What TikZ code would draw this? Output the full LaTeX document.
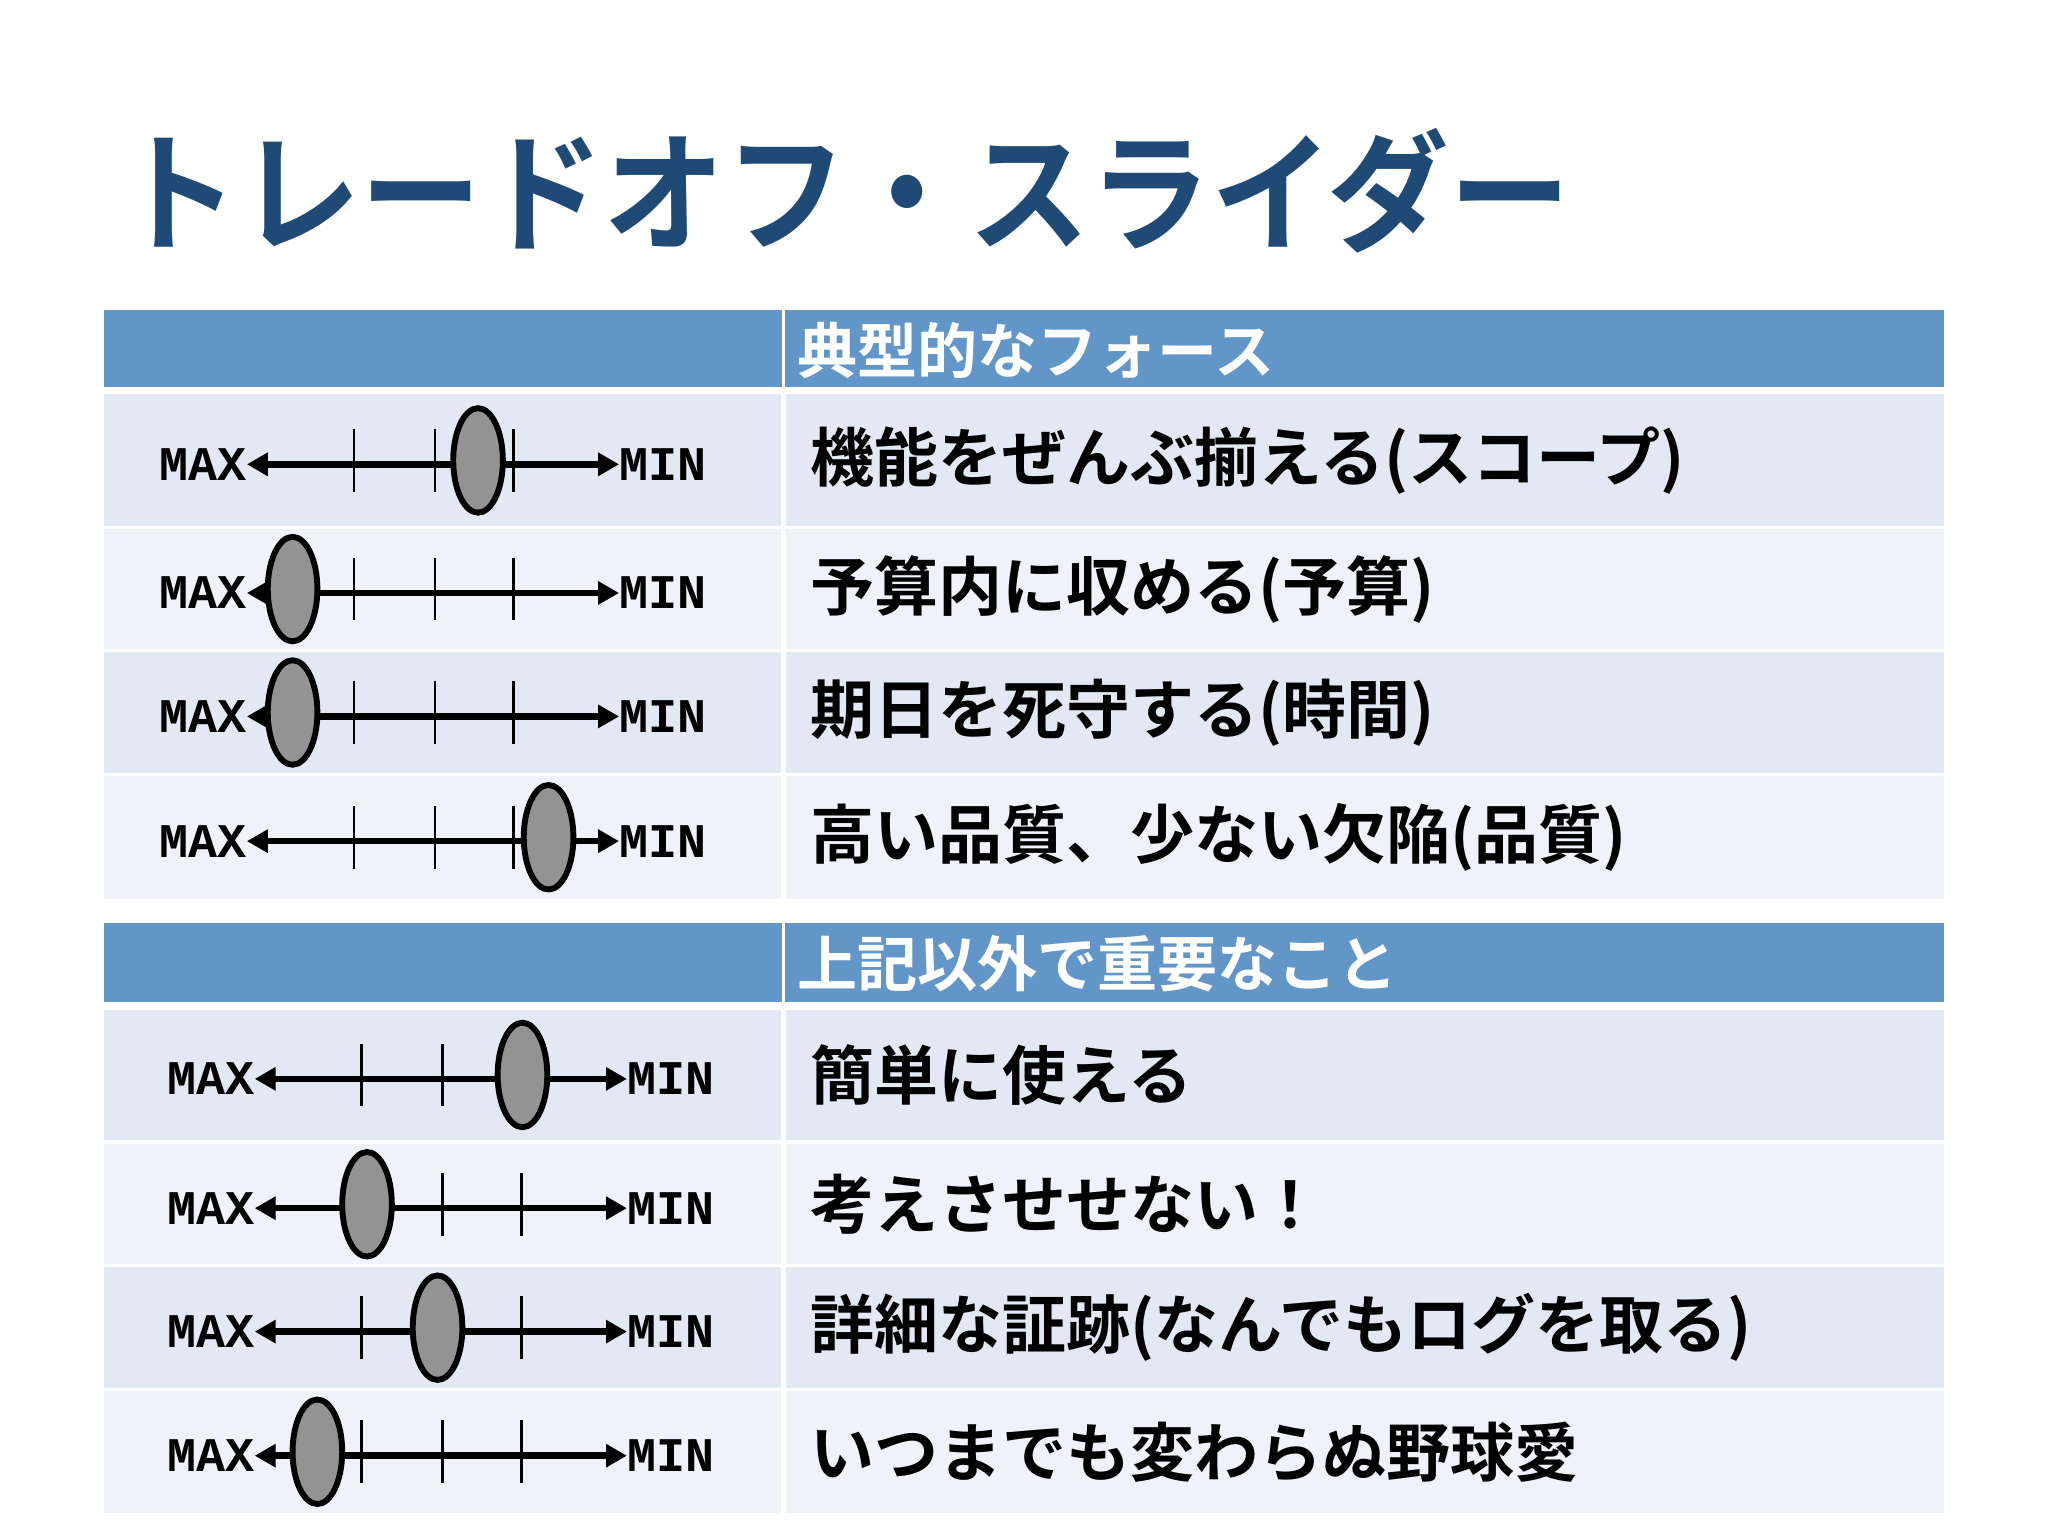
\documentclass[tikz,border=0pt]{standalone}
\usepackage{fontspec}
\newfontfamily\jp{Noto Sans CJK JP Bold}
\newfontfamily\mono{Liberation Mono Bold}
\usetikzlibrary{arrows.meta,shapes.geometric}
\definecolor{hdr}{HTML}{6295C8}
\definecolor{rowa}{HTML}{E3E9F4}
\definecolor{rowb}{HTML}{EFF2F8}
\definecolor{ttl}{HTML}{1F4A75}
\tikzset{
  lbl/.style={font=\mono\fontsize{37}{37}\selectfont, inner sep=0pt},
  jtxt/.style={font=\jp\fontsize{49}{49}\selectfont, anchor=west, inner sep=0pt},
  htxt/.style={font=\jp\fontsize{46}{46}\selectfont, anchor=west, inner sep=0pt, text=white},
  knob/.style={ellipse, draw=black, line width=4.5pt, fill=gray!85, minimum width=38pt, minimum height=80pt, inner sep=0pt},
  axis/.style={line width=5pt, {Triangle[length=16pt,width=17pt]}-{Triangle[length=16pt,width=17pt]}},
  tick/.style={line width=2.2pt}
}
\begin{document}
\begin{tikzpicture}[x=1pt,y=-1pt]
\useasboundingbox (0,0) rectangle (1568,1176);
\fill[white] (0,0) rectangle (1568,1176);
\node[font=\jp\fontsize{100}{100}\selectfont, text=ttl, anchor=west, inner sep=0pt, xscale=0.93] (title) at (90,146) {トレードオフ・スライダー};
% headers
\fill[hdr] (80,237) rectangle (1488,296);
\fill[hdr] (80,707) rectangle (1488,767);
\draw[white,line width=2pt] (600,237) -- (600,296);
\draw[white,line width=2pt] (600,707) -- (600,767);
\node[htxt] (h1) at (610,268) {典型的なフォース};
\node[htxt] (h2) at (610,738) {上記以外で重要なこと};
\foreach \ya/\yb/\c/\k/\o/\t [count=\i] in {
 302/403/rowa/366/0/{機能をぜんぶ揃える(スコープ)},
 405/497/rowb/224/0/{予算内に収める(予算)},
 499/592/rowa/224/0/{期日を死守する(時間)},
 594/688/rowb/420/0/{高い品質、少ない欠陥(品質)},
 773/873/rowa/400/6/{簡単に使える},
 876/968/rowb/281/6/{考えさせせない！},
 970/1063/rowa/335/6/{詳細な証跡(なんでもログを取る)},
 1065/1158/rowb/243/6/{いつまでも変わらぬ野球愛}} {
  \pgfmathsetmacro\ym{(\ya+\yb)/2}
  \fill[\c] (80,\ya) rectangle (598,\yb);
  \fill[\c] (602,\ya) rectangle (1488,\yb);
  \node[lbl, anchor=east] (max\i) at (189+\o,\ym+3) {MAX};
  \node[lbl, anchor=west] (min\i) at (474+\o,\ym+3) {MIN};
  \draw[axis] (max\i.east) -- (min\i.west);
  \foreach \tx in {271,333,393} \draw[tick] (\tx+\o,\ym-24) -- (\tx+\o,\ym+24);
  \node[knob] (k\i) at (\k,\ym) {};
  \node[jtxt] (t\i) at (620,\ym) {\t};
}
\end{tikzpicture}
\end{document}
